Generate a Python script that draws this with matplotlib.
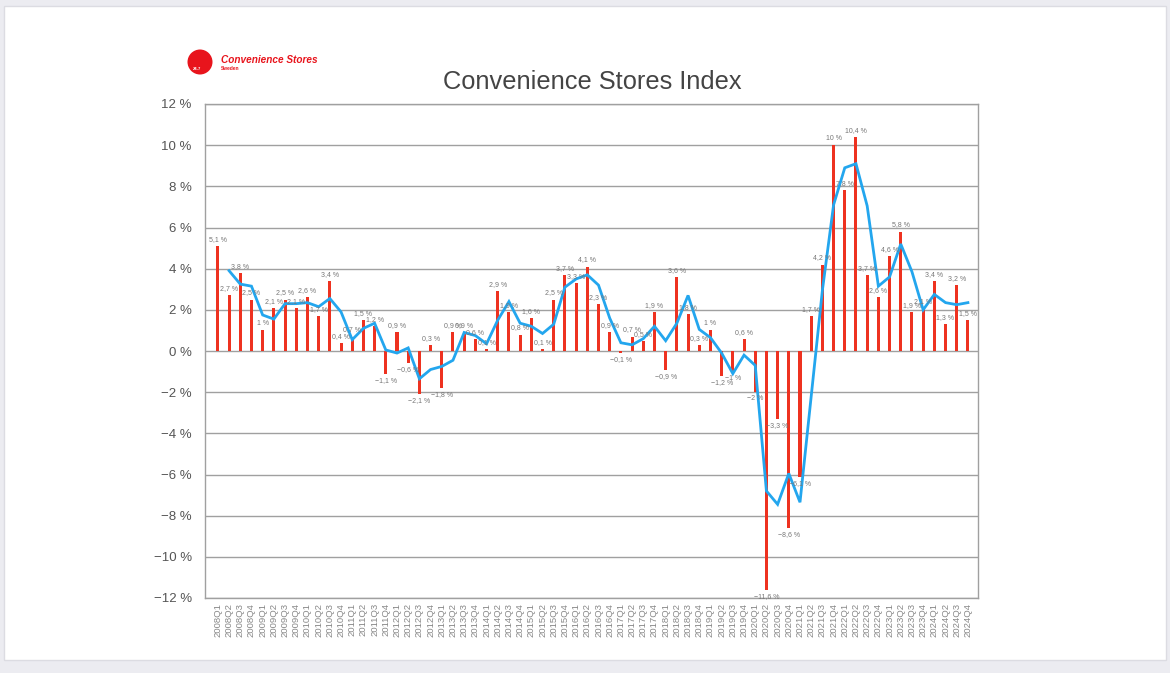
import matplotlib
matplotlib.use("Agg")
import matplotlib.pyplot as plt
from matplotlib.patches import Rectangle, Ellipse
import numpy as np

plt.rcParams['font.family'] = ['Liberation Sans', 'DejaVu Sans']

quarters = [f"{y}Q{q}" for y in range(2008, 2025) for q in range(1, 5)]

bar_values = [5.1, 2.7, 3.8, 2.5, 1.0, 2.1, 2.5, 2.1, 2.6, 1.7, 3.4, 0.4,
              0.7, 1.5, 1.2, -1.1, 0.9, -0.6, -2.1, 0.3, -1.8, 0.9, 0.9, 0.6,
              0.1, 2.9, 1.9, 0.8, 1.6, 0.1, 2.5, 3.7, 3.3, 4.1, 2.3, 0.9,
              -0.1, 0.7, 0.5, 1.9, -0.9, 3.6, 1.8, 0.3, 1.0, -1.2, -1.0, 0.6,
              -2.0, -11.6, -3.3, -8.6, -6.1, 1.7, 4.2, 10.0, 7.8, 10.4, 3.7, 2.6,
              4.6, 5.8, 1.9, 2.1, 3.4, 1.3, 3.2, 1.5]

# trend line (starts at 2008Q2)
trend_values = [3.9, 3.25, 3.15, 1.75, 1.55, 2.3, 2.3, 2.35, 2.15, 2.55, 1.9,
                0.55, 1.1, 1.35, 0.05, -0.1, 0.15, -1.35, -0.9, -0.75, -0.45,
                0.9, 0.75, 0.35, 1.5, 2.4, 1.35, 1.2, 0.85, 1.3, 3.1, 3.5, 3.7,
                3.2, 1.6, 0.4, 0.3, 0.6, 1.2, 0.5, 1.35, 2.7, 1.05, 0.65, -0.1,
                -1.1, -0.2, -0.7, -6.8, -7.45, -5.95, -7.35, -2.2, 2.95, 7.1,
                8.9, 9.1, 7.05, 3.15, 3.6, 5.2, 3.85, 2.0, 2.75, 2.35, 2.25, 2.35]

y_ticks = [12, 10, 8, 6, 4, 2, 0, -2, -4, -6, -8, -10, -12]

W, H = 1170, 673
fig = plt.figure(figsize=(W / 100, H / 100), dpi=100)
fig.patch.set_facecolor('#ececf1')

# white card (behind everything)
fig.patches.append(Rectangle((4 / W, 1 - 660 / H), 1162 / W, 654 / H,
                             transform=fig.transFigure, facecolor='white',
                             edgecolor='#dcdce2', linewidth=1.0, zorder=-10))

ax = fig.add_axes([205 / W, 1 - 598 / H, (978 - 205) / W, (598 - 104) / H])
ax.set_zorder(5)
ax.set_facecolor('none')

x = np.arange(len(bar_values))
ax.bar(x, bar_values, width=0.27, color='#ee3220', zorder=3)
ax.plot(x[1:], trend_values, color='#23a6ee', linewidth=2.0, zorder=4,
        solid_joinstyle='miter')

def fmt(v):
    s = f"{abs(v):.1f}".rstrip('0').rstrip('.').replace('.', ',')
    return ("\u2212" if v < 0 else "") + s + " %"

for xi, v in zip(x, bar_values):
    if v >= 0:
        ax.text(xi, v + 0.15, fmt(v), ha='center', va='bottom', fontsize=5.0,
                color='#777777', zorder=5)
    else:
        ax.text(xi, v - 0.15, fmt(v), ha='center', va='top', fontsize=5.0,
                color='#777777', zorder=5)

ax.set_ylim(-12, 12)
ax.set_xlim(-1.15, 67.9)
ax.set_yticks(y_ticks)
ax.set_yticklabels([(("\u2212" + str(abs(t))) if t < 0 else str(t)) + " %" for t in y_ticks],
                   fontsize=9.5, color='#555555')
ax.set_xticks(x)
ax.set_xticklabels(quarters, rotation=90, fontsize=6.8, color='#888888')
ax.tick_params(axis='both', length=0)
ax.tick_params(axis='y', pad=9.5)
ax.tick_params(axis='x', pad=3.5)
ax.grid(axis='y', color='#a0a0a0', linewidth=1.0, zorder=1)
for s in ax.spines.values():
    s.set_color('#a0a0a0')
    s.set_linewidth(1.0)

# title
fig.text(592 / W, 1 - 82 / H, "Convenience Stores Index", ha='center', va='center',
         fontsize=18.3, color='#444444')

# logo
fig.patches.append(Ellipse((200 / W, 1 - 62 / H), 25 / W, 25 / H, transform=fig.transFigure,
                           facecolor='#e8141c', edgecolor='none'))
fig.text(221 / W, 1 - 60 / H, "Convenience Stores", ha='left', va='center',
         fontsize=7.2, color='#e8141c', fontweight='bold', fontstyle='italic')
fig.text(221 / W, 1 - 69 / H, "Sweden", ha='left', va='center',
         fontsize=3.5, color='#e8141c', fontweight='bold')
fig.text(197 / W, 1 - 69 / H, "24-7", ha='center', va='center',
         fontsize=3, color='white', fontweight='bold')

fig.savefig("out.png", dpi=100, facecolor=fig.get_facecolor())
